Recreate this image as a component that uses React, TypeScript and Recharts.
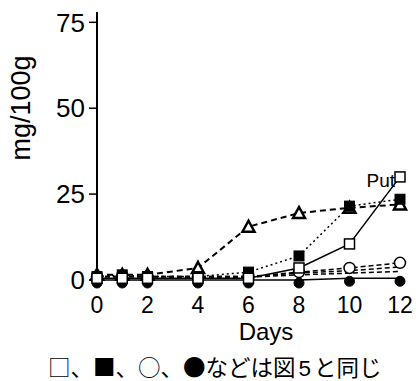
import { LineChart, Line, XAxis, YAxis, Label } from 'recharts'

const days = [0, 1, 2, 4, 6, 8, 10, 12]
const putOpenSquare = [0.5, 0.5, 0.5, 0.5, 0.5, 3.5, 10.5, 30]
const filledSquare = [1, 1.5, 1, 1, 2.3, 7, 21.5, 23.5]
const openTriangle = [1.5, 1.5, 1.5, 3.5, 15.5, 19.5, 21, 22]
const openCircle = [1, 1, 1, 1, 1, 2.3, 3.5, 5]
const dashedA = [1, 1, 1, 1, 1, 2, 2.7, 3.8]
const dashedB = [0.5, 0.5, 0.5, 0.8, 0.8, 1.5, 2, 2.5]
const filledCircle = [0, 0, 0, 0, 0, 0, 0.5, 0.5]
const xTicks = [0, 2, 4, 6, 8, 10, 12]
const yTicks = [0, 25, 50, 75]

const data = days.map((d, i) => ({
  day: d,
  put: putOpenSquare[i],
  fsq: filledSquare[i],
  otri: openTriangle[i],
  ocir: openCircle[i],
  da: dashedA[i],
  db: dashedB[i],
  fcir: filledCircle[i],
}))

const latin = '"Liberation Sans", Arial, sans-serif'

const OpenSquare = (p: any) => (
  <rect key={p.key} x={p.cx - 5} y={p.cy - 5} width={10} height={10} fill="#fff" stroke="#000" strokeWidth={1.5} />
)
const FilledSquare = (p: any) => (
  <rect key={p.key} x={p.cx - 5} y={p.cy - 5} width={10} height={10} fill="#000" stroke="#000" strokeWidth={1} />
)
const OpenTriangle = (p: any) => (
  <path
    key={p.key}
    d={`M${p.cx},${p.cy - 6} L${p.cx + 6},${p.cy + 5} L${p.cx - 6},${p.cy + 5} Z`}
    fill="#fff"
    stroke="#000"
    strokeWidth={2.5}
  />
)
const OpenCircle = (p: any) => (
  <circle key={p.key} cx={p.cx} cy={p.cy} r={5.5} fill="#fff" stroke="#000" strokeWidth={1.5} />
)
const FilledCircle = (p: any) => (
  <circle key={p.key} cx={p.cx} cy={p.cy + 3} r={5} fill="#000" stroke="#000" />
)

const PutLabel = (p: any) =>
  p.index === days.length - 1 ? (
    <text key="put" x={p.x - 5} y={p.y + 10} textAnchor="end" fontSize={19} fontFamily={latin} fill="#000">
      Put
    </text>
  ) : null

export default function App() {
  return (
    <div style={{ position: 'absolute', left: 0, top: 0, width: 416, height: 381, background: '#fff' }}>
      <LineChart width={416} height={381} data={data} margin={{ top: 12, right: 16, left: 0, bottom: 0 }}>
        <XAxis
          dataKey="day"
          type="number"
          domain={[0, 12]}
          ticks={xTicks}
          axisLine={false}
          tickLine={{ stroke: '#000', strokeWidth: 1.5 }}
          tickSize={6}
          tickMargin={11}
          height={101}
          tick={{ fill: '#000', fontSize: 23, fontFamily: latin }}
        >
          <Label
            content={() => (
              <text x={266} y={340} textAnchor="middle" fontSize={24} fontFamily={latin} fill="#000">
                Days
              </text>
            )}
          />
        </XAxis>
        <YAxis
          type="number"
          domain={[0, 78]}
          ticks={yTicks}
          width={97}
          axisLine={{ stroke: '#000', strokeWidth: 2 }}
          tickLine={{ stroke: '#000', strokeWidth: 1.5 }}
          tickSize={8}
          tickMargin={4}
          tick={{ fill: '#000', fontSize: 26, fontFamily: latin }}
        >
          <Label
            content={() => (
              <text x={30} y={108} transform="rotate(-90 30 108)" textAnchor="middle" fontSize={27} fontFamily={latin} fill="#000">
                mg/100g
              </text>
            )}
          />
        </YAxis>
        <Line dataKey="db" stroke="#000" strokeWidth={1.5} strokeDasharray="5 3" dot={false} isAnimationActive={false} />
        <Line dataKey="da" stroke="#000" strokeWidth={1.5} strokeDasharray="5 3" dot={false} isAnimationActive={false} />
        <Line dataKey="fcir" stroke="#000" strokeWidth={1.5} dot={FilledCircle} isAnimationActive={false} />
        <Line dataKey="ocir" stroke="#000" strokeWidth={1.5} strokeDasharray="5 3" dot={OpenCircle} isAnimationActive={false} />
        <Line dataKey="otri" stroke="#000" strokeWidth={2} strokeDasharray="6 4" dot={OpenTriangle} isAnimationActive={false} />
        <Line dataKey="fsq" stroke="#000" strokeWidth={1.5} strokeDasharray="2 3" dot={FilledSquare} isAnimationActive={false} />
        <Line dataKey="put" stroke="#000" strokeWidth={1.5} dot={OpenSquare} label={PutLabel} isAnimationActive={false} />
      </LineChart>
      <div
        style={{
          position: 'absolute',
          left: 48,
          top: 353,
          fontSize: 22.5,
          lineHeight: '27px',
          whiteSpace: 'nowrap',
          fontFamily: '"Noto Sans CJK JP", sans-serif',
          color: '#000',
        }}
      >
        □、■、○、●などは図<span style={{ fontFamily: latin, margin: '0 3px' }}>5</span>と同じ
      </div>
    </div>
  )
}
